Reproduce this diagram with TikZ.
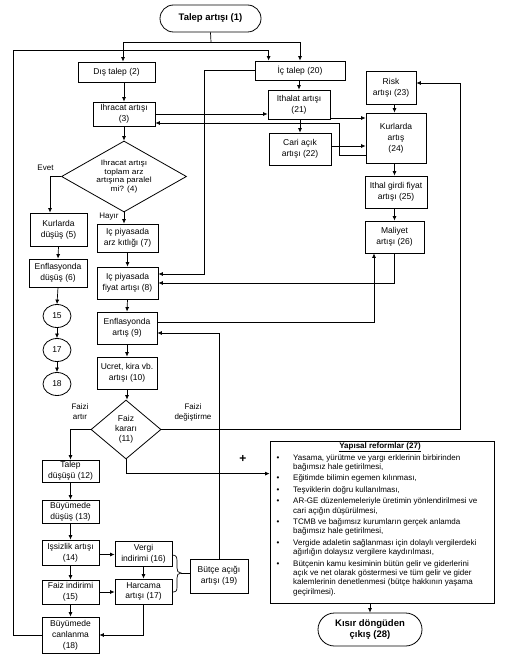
\documentclass[tikz,border=0pt]{standalone}
\usepackage{fontspec}
\setmainfont{Liberation Sans}
\newfontfamily\strfont[FakeStretch=1.1]{Liberation Sans}
\usetikzlibrary{arrows.meta,shapes.geometric,shapes.misc,calc}
\newcommand\bulx{\makebox[18pt][l]{\hspace{1.5pt}\textbullet}}
\newcommand\contx{\hspace*{18pt}}
\begin{document}
\begin{tikzpicture}[x=1pt,y=-1pt,
  box/.style={draw, line width=0.8pt, align=center, inner sep=0pt, font=\fontsize{8.5}{10.8}\selectfont},
  term/.style={draw, rounded rectangle, line width=0.8pt, align=center, inner sep=0pt, font=\fontsize{9.5}{11.5}\selectfont\bfseries},
  circ/.style={draw, ellipse, line width=0.8pt, inner sep=0pt, minimum width=28pt, minimum height=23pt, font=\fontsize{8.5}{10}\selectfont},
  dia/.style={draw, diamond, line width=0.8pt, inner sep=0pt},
  arr/.style={line width=0.7pt, -{Latex[length=4.5pt,width=4pt]}},
  ln/.style={line width=0.7pt},
  lab/.style={align=center, inner sep=0pt, font=\fontsize{8}{10}\selectfont}
]
\useasboundingbox (0,0) rectangle (511,666);
% terminals
\node[term, minimum width=101pt, minimum height=27pt] (n1) at (210.5,18.5) {Talep artışı (1)};
\node[term, minimum width=104pt, minimum height=33pt] (n28) at (370,629.5) {Kısır döngüden\\çıkış (28)};
% left / middle column
\node[box, minimum width=77pt, minimum height=20pt] (n2) at (116.5,72) {Dış talep (2)};
\node[box, minimum width=62pt, minimum height=24pt] (n3) at (124,114) {Ihracat artışı\\(3)};
\node[dia, minimum width=125pt, minimum height=71pt] (d4) at (124,176.5) {};
\node[lab, font=\strfont\fontsize{7.6}{8.7}\selectfont] (d4t) at (d4) {Ihracat artışı\\toplam arz\\artışına paralel\\mi? (4)};
\node[box, minimum width=57pt, minimum height=33pt] (n5) at (58.5,229.5) {Kurlarda\\düşüş (5)};
\node[box, minimum width=58pt, minimum height=28pt] (n6) at (58,273) {Enflasyonda\\düşüş (6)};
\node[circ] (c15) at (57,316) {15};
\node[circ] (c17) at (57,350) {17};
\node[circ] (c18) at (57,384) {18};
\node[box, minimum width=61pt, minimum height=28pt] (n7) at (127.5,238) {Iç piyasada\\arz kıtlığı (7)};
\node[box, minimum width=61pt, minimum height=32pt] (n8) at (127.5,283) {Iç piyasada\\fiyat artışı (8)};
\node[box, minimum width=60pt, minimum height=32pt] (n9) at (127,328) {Enflasyonda\\artış (9)};
\node[box, minimum width=60pt, minimum height=32pt] (n10) at (127,373) {Ucret, kira vb.\\artışı (10)};
\node[dia, minimum width=70pt, minimum height=59pt] (d11) at (126,429.5) {};
\node[lab, font=\fontsize{8.5}{10}\selectfont] (d11t) at (d11) {Faiz\\kararı\\(11)};
\node[box, minimum width=57pt, minimum height=22pt] (n12) at (70.5,471) {Talep\\düşüşü (12)};
\node[box, minimum width=57pt, minimum height=23pt] (n13) at (70.5,511.5) {Büyümede\\düşüş (13)};
\node[box, minimum width=57pt, minimum height=25pt] (n14) at (70.5,552.5) {Işsizlik artışı\\(14)};
\node[box, minimum width=57pt, minimum height=24pt] (n15) at (70.5,592) {Faiz indirimi\\(15)};
\node[box, minimum width=57pt, minimum height=36pt] (n18) at (70.5,635) {Büyümede\\canlanma\\(18)};
\node[box, minimum width=57pt, minimum height=25pt] (n16) at (143.5,553.5) {Vergi\\indirimi (16)};
\node[box, minimum width=57pt, minimum height=25pt] (n17) at (143.5,591.5) {Harcama\\artışı (17)};
\node[box, minimum width=58pt, minimum height=34pt] (n19) at (219,576) {Bütçe açığı\\artışı (19)};
% right part
\node[box, minimum width=90pt, minimum height=19pt] (n20) at (300,70.5) {İç talep (20)};
\node[box, minimum width=62pt, minimum height=29pt] (n21) at (299,104.5) {Ithalat artışı\\(21)};
\node[box, minimum width=62pt, minimum height=32pt] (n22) at (300,149) {Cari açık\\artışı (22)};
\node[box, minimum width=50pt, minimum height=33pt] (n23) at (391,87.5) {Risk\\artışı (23)};
\node[box, minimum width=60pt, minimum height=50pt] (n24) at (396,138) {Kurlarda\\artış\\(24)};
\node[box, minimum width=62pt, minimum height=32pt] (n25) at (396,192) {Ithal girdi fiyat\\artışı (25)};
\node[box, minimum width=59pt, minimum height=32pt] (n26) at (394.5,237) {Maliyet\\artışı (26)};
% reform box
\node[draw, line width=0.8pt, minimum width=224pt, minimum height=162pt, inner sep=0pt] (n27) at (382,522) {};
\node[anchor=base, inner sep=0pt, font=\fontsize{8}{9}\selectfont\bfseries] (n27t) at (380,448.5) {\underline{Yapısal reformlar (27)}};
\node[anchor=north west, inner sep=0pt, align=left, font=\fontsize{8}{9.3}\selectfont] (n27l) at (275,454) {%
\bulx Yasama, yürütme ve yargı erklerinin birbirinden\\
\contx bağımsız hale getirilmesi,\\[2.2pt]
\bulx Eğitimde bilimin egemen kılınması,\\[2.2pt]
\bulx Teşviklerin doğru kullanılması,\\[2.2pt]
\bulx AR-GE düzenlemeleriyle üretimin yönlendirilmesi ve\\
\contx cari açığın düşürülmesi,\\[2.2pt]
\bulx TCMB ve bağımsız kurumların gerçek anlamda\\
\contx bağımsız hale getirilmesi,\\[2.2pt]
\bulx Vergide adaletin sağlanması için dolaylı vergilerdeki\\
\contx ağırlığın dolaysız vergilere kaydırılması,\\[2.2pt]
\bulx Bütçenin kamu kesiminin bütün gelir ve giderlerini\\
\contx açık ve net olarak göstermesi ve tüm gelir ve gider\\
\contx kalemlerinin denetlenmesi (bütçe hakkının yaşama\\
\contx geçirilmesi).};
% labels
\node[lab] (evet) at (45.5,168) {Evet};
\node[lab] (hayir) at (109,217) {Hayır};
\node[lab] (fa) at (80,412) {Faizi\\artır};
\node[lab] (fd) at (193,412) {Faizi\\değiştirme};
\node[inner sep=0pt, font=\fontsize{12}{12}\selectfont\bfseries] (plus) at (243,459) {+};
% connectors: top distribution
\coordinate (j1) at (211,42);
\draw[ln] (n1.south) -- (j1);
\draw[arr] (j1) -| ($(n2.north)+(6.5,0)$);
\draw[arr] (j1) -| (n20.north);
% big loop from 18
\draw[arr] (n18.west) -- ++(-28,0) -- ++(0,-585) -| ($(n20.north west)+(14,0)$);
% main flow
\draw[arr] (n3.north |- n2.south) -- (n3.north);
\draw[arr] (n3.south) -- (d4.north);
\draw[arr] (d4.west) -| ($(n5.north)+(-8.5,0)$);
\draw[arr] (d4.south) -- (d4.south |- n7.north);
\draw[arr] (n5.south) -- (n6.north);
\draw[arr] (n6.south) -- (c15.north);
\draw[arr] (c15.south) -- (c17.north);
\draw[arr] (c17.south) -- (c18.north);
\draw[arr] (n7.south) -- (n8.north);
\draw[arr] (n8.south) -- (n9.north);
\draw[arr] (n9.south) -- (n10.north);
\draw[arr] (n10.south) -- (n10.south |- d11.north);
\draw[arr] (d11.west) -| (n12.north);
\draw[arr] (d11.east) -- ++(299,0) |- ($(n23.east)+(0,-4.5)$);
\draw[arr] (d11.south) |- ($(n27.north west)+(0,33)$);
% lower left
\draw[arr] (n12.south) -- (n13.north);
\draw[arr] (n13.south) -- (n14.north);
\draw[arr] (n14.south) -- (n15.north);
\draw[arr] (n15.south) -- (n18.north);
\coordinate (a14) at ($(n14.east)+(0,2)$);
\draw[arr] (a14) -- (a14 -| n16.west);
\draw[arr] (n15.east) -- (n15.east -| n17.west);
\draw[arr] (n16.south) -- (n17.north);
\draw[arr] (n17.south) |- (n18.east);
% brace to 19
\coordinate (bt) at (181,573);
\draw[ln] ($(n16.east)+(0,1.5)$) .. controls (176,555) and (177,557) .. (177,561) -- (177,568) .. controls (177,571) and (178,573) .. (bt) .. controls (178,573) and (177,575) .. (177,578) -- (177,587) .. controls (177,591) and (176,592) .. ($(n17.east)+(0,0.5)$);
\draw[ln] (bt) -- (bt -| n19.west);
\draw[arr] (n19.north) |- ($(n9.east)+(0,5)$);
% right side
\draw[arr] ($(n9.east)+(0,-6)$) -| ($(n26.south)+(-20.5,0)$);
\draw[arr] (n26.south) |- (n8.east);
\draw[arr] (n20.west) -- ++(-50,0) |- ($(n8.east)+(0,-9)$);
\draw[arr] (n21.north |- n20.south) -- (n21.north);
\draw[arr] (n22.north |- n21.south) -- (n22.north);
\draw[arr] (n3.east) -- (n3.east -| n21.west);
\draw[arr] ($(n24.west)+(0,17)$) -- ++(-26,0) |- ($(n3.east)+(0,9)$);
\coordinate (a21) at ($(n21.east)+(0,13.5)$);
\draw[arr] (a21) -- (a21 -| n24.west);
\coordinate (a22) at ($(n22.east)+(0,-3)$);
\draw[arr] (a22) -- (a22 -| n24.west);
\draw[arr] (n23.south -| n26.south) -- (n24.north -| n26.south);
\draw[arr] (n24.south -| n26.south) -- (n25.north -| n26.south);
\draw[arr] (n25.south -| n26.south) -- (n26.north);
\draw[arr] (n28.north |- n27.south) -- (n28.north);
\end{tikzpicture}
\end{document}
